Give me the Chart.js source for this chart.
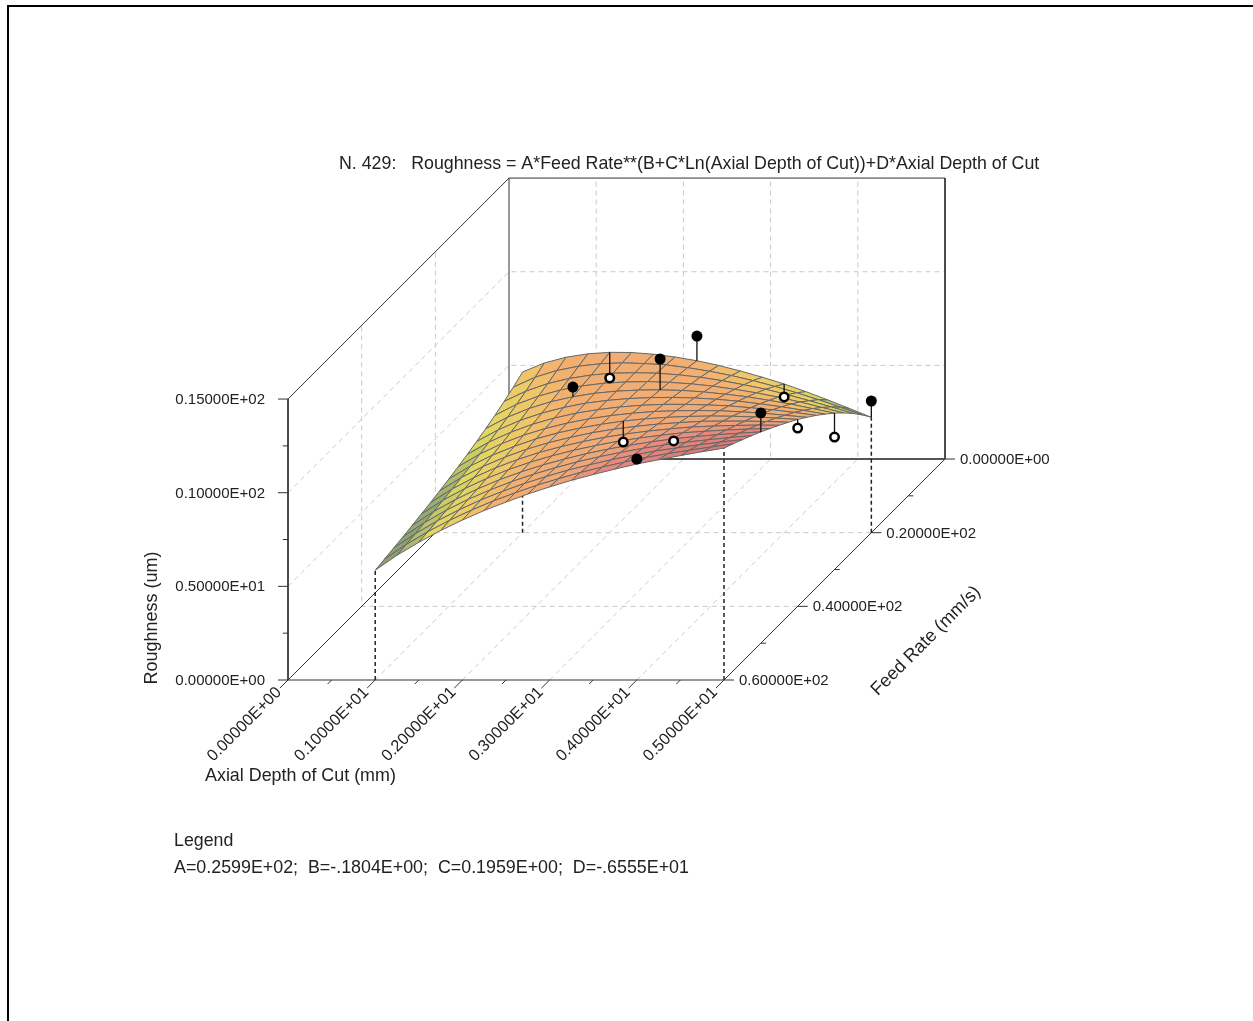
<!DOCTYPE html>
<html>
<head>
<meta charset="utf-8">
<title>N. 429 Roughness</title>
<script src="https://cdn.jsdelivr.net/npm/chart.js@4"></script>
<style>
  html, body { margin: 0; padding: 0; background: #fff; overflow: hidden; }
  #frame { position: absolute; left: 7px; top: 5px; right: -5px; bottom: -5px; border-left: 2px solid #000; border-top: 2px solid #000; }
  canvas { display: block; }
</style>
</head>
<body>
<canvas id="myChart" width="1253" height="1021"></canvas>
<div id="frame"></div>
<script>
// surface: one row per depth, one column per feed rate
const depthGrid = [1, 1.25, 1.5, 1.75, 2, 2.25, 2.5, 2.75, 3, 3.25, 3.5, 3.75, 4, 4.25, 4.5, 4.75, 5];
const feedGrid = [20, 22.5, 25, 27.5, 30, 32.5, 35, 37.5, 40, 42.5, 45, 47.5, 50, 52.5, 55, 57.5, 60];
const roughnessGrid = [
  [8.58, 8.26, 7.99, 7.74, 7.52, 7.32, 7.13, 6.96, 6.80, 6.66, 6.52, 6.40, 6.28, 6.16, 6.06, 5.96, 5.86],
  [9.06, 8.79, 8.54, 8.33, 8.13, 7.95, 7.79, 7.64, 7.50, 7.37, 7.25, 7.14, 7.03, 6.93, 6.83, 6.74, 6.66],
  [9.37, 9.15, 8.94, 8.76, 8.60, 8.45, 8.31, 8.19, 8.07, 7.96, 7.86, 7.76, 7.67, 7.59, 7.51, 7.43, 7.35],
  [9.55, 9.38, 9.22, 9.09, 8.96, 8.84, 8.74, 8.64, 8.54, 8.46, 8.38, 8.30, 8.23, 8.17, 8.10, 8.04, 7.98],
  [9.63, 9.51, 9.40, 9.31, 9.22, 9.14, 9.07, 9.00, 8.94, 8.88, 8.82, 8.77, 8.72, 8.67, 8.63, 8.58, 8.54],
  [9.62, 9.56, 9.50, 9.45, 9.41, 9.37, 9.33, 9.29, 9.26, 9.23, 9.20, 9.17, 9.14, 9.12, 9.09, 9.07, 9.05],
  [9.53, 9.52, 9.52, 9.52, 9.52, 9.52, 9.52, 9.52, 9.51, 9.51, 9.51, 9.51, 9.51, 9.51, 9.51, 9.50, 9.50],
  [9.38, 9.45, 9.50, 9.54, 9.58, 9.62, 9.66, 9.69, 9.72, 9.76, 9.78, 9.81, 9.83, 9.86, 9.88, 9.91, 9.93],
  [9.18, 9.30, 9.41, 9.50, 9.59, 9.67, 9.75, 9.82, 9.89, 9.95, 10.01, 10.06, 10.12, 10.17, 10.22, 10.26, 10.31],
  [8.93, 9.11, 9.28, 9.42, 9.56, 9.68, 9.80, 9.91, 10.01, 10.10, 10.19, 10.28, 10.36, 10.44, 10.51, 10.59, 10.66],
  [8.63, 8.88, 9.10, 9.30, 9.48, 9.65, 9.80, 9.95, 10.09, 10.22, 10.34, 10.46, 10.57, 10.68, 10.78, 10.88, 10.97],
  [8.30, 8.61, 8.88, 9.13, 9.36, 9.58, 9.77, 9.96, 10.14, 10.30, 10.46, 10.61, 10.75, 10.89, 11.02, 11.14, 11.26],
  [7.94, 8.30, 8.64, 8.94, 9.22, 9.48, 9.72, 9.95, 10.16, 10.37, 10.56, 10.74, 10.91, 11.08, 11.24, 11.39, 11.53],
  [7.53, 7.96, 8.35, 8.71, 9.03, 9.34, 9.62, 9.89, 10.15, 10.38, 10.61, 10.82, 11.03, 11.22, 11.41, 11.59, 11.76],
  [7.09, 7.59, 8.03, 8.45, 8.83, 9.18, 9.51, 9.82, 10.11, 10.38, 10.64, 10.89, 11.13, 11.35, 11.57, 11.78, 11.98],
  [6.63, 7.19, 7.70, 8.16, 8.59, 8.99, 9.37, 9.71, 10.05, 10.36, 10.66, 10.94, 11.21, 11.47, 11.72, 11.95, 12.19],
  [6.16, 6.78, 7.35, 7.87, 8.35, 8.79, 9.21, 9.60, 9.98, 10.32, 10.65, 10.97, 11.28, 11.57, 11.85, 12.12, 12.38]
];

// measured points above the surface (filled) and below it (open)
const aboveDepth = [2, 3, 3, 4, 5, 5];
const aboveFeed = [30, 30, 20, 60, 50, 20];
const aboveRough = [9.74, 11.24, 10.5, 11.8, 12.29, 7.03];
const aboveFitted = [9.22, 9.59, 9.18, 11.53, 11.28, 6.16];
const belowDepth = [2, 3, 4, 4, 5, 5];
const belowFeed = [20, 40, 50, 20, 40, 30];
const belowRough = [8.26, 8.77, 10.8, 7.25, 9.52, 7.07];
const belowFitted = [9.63, 9.89, 10.91, 7.94, 9.98, 8.35];

// tick values and labels
const depthTicks = [0, 1, 2, 3, 4, 5];
const depthMinor = [0.5, 1.5, 2.5, 3.5, 4.5];
const depthLabels = ['0.00000E+00', '0.10000E+01', '0.20000E+01', '0.30000E+01', '0.40000E+01', '0.50000E+01'];
const feedTicks = [0, 20, 40, 60];
const feedMinor = [10, 30, 50];
const feedLabels = ['0.00000E+00', '0.20000E+02', '0.40000E+02', '0.60000E+02'];
const roughTicks = [0, 5, 10, 15];
const roughMinor = [2.5, 7.5, 12.5];
const roughLabels = ['0.00000E+00', '0.50000E+01', '0.10000E+02', '0.15000E+02'];

// colour of a cell by its height
const colourHeights = [5.8, 6.8, 7.6, 8.6, 9.2, 10.3, 11, 12.4];
const colourValues = [[128, 146, 112], [150, 172, 116], [224, 216, 96], [240, 200, 104], [242, 176, 112], [240, 168, 120], [232, 136, 124], [214, 118, 118]];

const depthMax = 5, feedMax = 60, roughMax = 15;

// oblique view: feed rate runs up and to the right, from the front edge to the back wall
const feedToX = 0.04224, feedToY = 0.19664;
function project(d, f, z) {
  return { x: d + (feedMax - f) * feedToX, y: z + (feedMax - f) * feedToY };
}

function cellColour(z) {
  let i = 0;
  while (i < colourHeights.length - 2 && z > colourHeights[i + 1]) i++;
  let t = (z - colourHeights[i]) / (colourHeights[i + 1] - colourHeights[i]);
  t = Math.max(0, Math.min(1, t));
  const a = colourValues[i], b = colourValues[i + 1];
  return 'rgb(' + a.map((v, k) => Math.round(v + (b[k] - v) * t)).join(',') + ')';
}

let layers = [];
function addLine(points, color, width, dash) {
  layers.push({
    data: points, showLine: true, fill: false, tension: 0, pointRadius: 0,
    borderColor: color, borderWidth: width, borderDash: dash || []
  });
}

// dashed grid on the walls and the floor
const gridColor = '#c9c9c9', gridDash = [5, 4];
[1, 2, 3, 4].forEach(d => {
  addLine([project(d, feedMax, 0), project(d, 0, 0), project(d, 0, roughMax)], gridColor, 1, gridDash);
});
[20, 40].forEach(f => {
  addLine([project(depthMax, f, 0), project(0, f, 0), project(0, f, roughMax)], gridColor, 1, gridDash);
});
[5, 10].forEach(z => {
  addLine([project(0, feedMax, z), project(0, 0, z), project(depthMax, 0, z)], gridColor, 1, gridDash);
});

// box
const boxColor = '#333';
addLine([project(0, feedMax, 0), project(0, 0, 0), project(0, 0, roughMax)], boxColor, 1);
addLine([project(0, feedMax, roughMax), project(0, 0, roughMax), project(depthMax, 0, roughMax), project(depthMax, 0, 0)], boxColor, 1);
addLine([project(0, 0, 0), project(depthMax, 0, 0)], '#555', 2);
addLine([project(0, feedMax, roughMax), project(0, feedMax, 0), project(depthMax, feedMax, 0), project(depthMax, 0, 0)], boxColor, 1);

// ticks
depthTicks.forEach(d => addLine([project(d, feedMax, 0), project(d, feedMax + 2.2, 0)], boxColor, 1));
depthMinor.forEach(d => addLine([project(d, feedMax, 0), project(d, feedMax + 1.1, 0)], boxColor, 1));
feedTicks.forEach(f => addLine([project(depthMax, f, 0), project(depthMax + 0.115, f, 0)], boxColor, 1));
feedMinor.forEach(f => addLine([project(depthMax, f, 0), project(depthMax + 0.06, f, 0)], boxColor, 1));
roughTicks.forEach(z => addLine([project(0, feedMax, z), project(-0.115, feedMax, z)], boxColor, 1));
roughMinor.forEach(z => addLine([project(0, feedMax, z), project(-0.06, feedMax, z)], boxColor, 1));

// dashed drop lines from the surface corners
const lastDepth = depthGrid.length - 1, lastFeed = feedGrid.length - 1;
[[0, lastFeed], [0, 0], [lastDepth, lastFeed], [lastDepth, 0]].forEach(c => {
  const d = depthGrid[c[0]], f = feedGrid[c[1]];
  addLine([project(d, f, 0), project(d, f, roughnessGrid[c[0]][c[1]])], '#222', 1.5, [4, 3]);
});

// surface, painted from the back wall towards the viewer
for (let j = 0; j < lastFeed; j++) {
  for (let i = 0; i < lastDepth; i++) {
    const corners = [[i, j], [i + 1, j], [i + 1, j + 1], [i, j + 1], [i, j]];
    const mean = (roughnessGrid[i][j] + roughnessGrid[i + 1][j] + roughnessGrid[i + 1][j + 1] + roughnessGrid[i][j + 1]) / 4;
    layers.push({
      data: corners.map(c => project(depthGrid[c[0]], feedGrid[c[1]], roughnessGrid[c[0]][c[1]])),
      showLine: true, tension: 0, pointRadius: 0,
      fill: 'shape', backgroundColor: cellColour(mean),
      borderColor: '#666', borderWidth: 1
    });
  }
}

// stems, then the points
aboveDepth.forEach((d, i) => addLine([project(d, aboveFeed[i], aboveRough[i]), project(d, aboveFeed[i], aboveFitted[i])], '#111', 1.3));
belowDepth.forEach((d, i) => addLine([project(d, belowFeed[i], belowRough[i]), project(d, belowFeed[i], belowFitted[i])], '#111', 1.3));
layers.push({
  data: belowDepth.map((d, i) => project(d, belowFeed[i], belowRough[i])),
  showLine: false, pointRadius: 4.25, pointBackgroundColor: '#fff', pointBorderColor: '#000', pointBorderWidth: 2.5
});
layers.push({
  data: aboveDepth.map((d, i) => project(d, aboveFeed[i], aboveRough[i])),
  showLine: false, pointRadius: 5.5, pointBackgroundColor: '#000', pointBorderColor: '#000', pointBorderWidth: 0
});

// later layers go on top
layers.forEach((l, i) => { l.order = -i; });

const textFont = '"Liberation Sans", Arial, sans-serif';
const textPlugin = {
  id: 'chartText',
  afterDraw(chart) {
    const ctx = chart.ctx, xs = chart.scales.x, ys = chart.scales.y;
    const at = p => ({ x: xs.getPixelForValue(p.x), y: ys.getPixelForValue(p.y) });
    function put(text, x, y, size, align, angle) {
      ctx.save();
      ctx.translate(x, y);
      if (angle) ctx.rotate(angle * Math.PI / 180);
      ctx.font = size + 'px ' + textFont;
      ctx.fillStyle = '#222';
      ctx.textAlign = align;
      ctx.textBaseline = 'middle';
      ctx.fillText(text, 0, 0);
      ctx.restore();
    }
    roughTicks.forEach((z, i) => {
      const p = at(project(0, feedMax, z));
      put(roughLabels[i], p.x - 23, p.y + 1, 15, 'right');
    });
    feedTicks.forEach((f, i) => {
      const p = at(project(depthMax, f, 0));
      put(feedLabels[i], p.x + 15, p.y + 1, 15, 'left');
    });
    depthTicks.forEach((d, i) => {
      const p = at(project(d, feedMax, 0));
      put(depthLabels[i], p.x - 9, p.y + 10, 16.3, 'right', -45);
    });
    put('N. 429:   Roughness = A*Feed Rate**(B+C*Ln(Axial Depth of Cut))+D*Axial Depth of Cut', 339, 164, 17.8, 'left');
    put('Axial Depth of Cut (mm)', 205, 776, 17.9, 'left');
    put('Roughness (um)', 152, 618, 18, 'center', -90);
    put('Feed Rate (mm/s)', 926, 641, 18.2, 'center', -45);
    put('Legend', 174, 841, 17.8, 'left');
    put('A=0.2599E+02;  B=-.1804E+00;  C=0.1959E+00;  D=-.6555E+01', 174, 868, 17.85, 'left');
  }
};

var ctx = document.getElementById('myChart').getContext('2d');
var myChart = new Chart(ctx, {
  type: 'scatter',
  data: { datasets: layers },
  plugins: [textPlugin],
  options: {
    responsive: false,
    animation: false,
    events: [],
    layout: { autoPadding: false, padding: 0 },
    plugins: { legend: { display: false }, tooltip: { enabled: false } },
    scales: {
      x: { type: 'linear', display: false, min: -3.3028, max: 11.0665 },
      y: { type: 'linear', display: false, min: -18.206, max: 36.306 }
    }
  }
});
</script>
</body>
</html>
